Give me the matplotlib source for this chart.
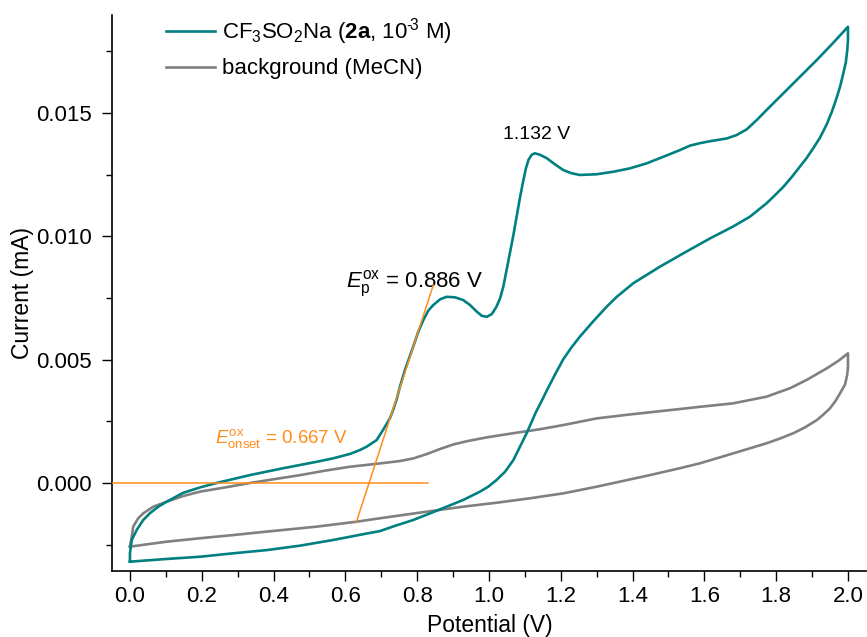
import matplotlib
matplotlib.use("Agg")
import matplotlib.pyplot as plt
from matplotlib.ticker import MultipleLocator, FormatStrFormatter

plt.rcParams['font.family'] = ['Liberation Sans', 'DejaVu Sans']
plt.rcParams['mathtext.fontset'] = 'custom'
plt.rcParams['mathtext.rm'] = 'Liberation Sans'
plt.rcParams['mathtext.it'] = 'Liberation Sans:italic'
plt.rcParams['mathtext.bf'] = 'Liberation Sans:bold'

# Cyclic voltammogram of CF3SO2Na (forward anodic sweep, then reverse sweep)
cv_fwd_v = [0.000, 0.000, 0.005, 0.019, 0.037, 0.056, 0.079, 0.102, 0.148, 0.195,
            0.241, 0.334, 0.427, 0.520, 0.566, 0.613, 0.641, 0.659, 0.687, 0.705,
            0.724, 0.733, 0.743, 0.752, 0.766, 0.789, 0.803, 0.817, 0.831, 0.845,
            0.864, 0.882, 0.905, 0.928, 0.947, 0.966, 0.980, 0.994, 1.008, 1.021,
            1.031, 1.040, 1.049, 1.058, 1.068, 1.077, 1.086, 1.096, 1.103, 1.110,
            1.119, 1.128, 1.142, 1.161, 1.184, 1.207, 1.230, 1.253, 1.300, 1.346,
            1.393, 1.439, 1.486, 1.532, 1.560, 1.588, 1.616, 1.662, 1.690, 1.718,
            1.746, 1.773, 1.820, 1.866, 1.913, 1.959, 2.000]
cv_fwd_i = [-0.00319, -0.00284, -0.00231, -0.00190, -0.00150, -0.00122, -0.00096, -0.00076, -0.00040, -0.00018,
            0.00000, 0.00032, 0.00060, 0.00086, 0.00100, 0.00118, 0.00134, 0.00147, 0.00174, 0.00215,
            0.00262, 0.00296, 0.00340, 0.00390, 0.00458, 0.00553, 0.00613, 0.00660, 0.00699, 0.00722,
            0.00745, 0.00755, 0.00753, 0.00742, 0.00722, 0.00695, 0.00678, 0.00674, 0.00685, 0.00715,
            0.00749, 0.00796, 0.00864, 0.00930, 0.01005, 0.01080, 0.01154, 0.01229, 0.01276, 0.01310,
            0.01331, 0.01337, 0.01331, 0.01317, 0.01292, 0.01269, 0.01256, 0.01249, 0.01252, 0.01262,
            0.01276, 0.01296, 0.01323, 0.01350, 0.01368, 0.01378, 0.01386, 0.01397, 0.01411, 0.01434,
            0.01472, 0.01512, 0.01580, 0.01647, 0.01715, 0.01785, 0.01850]
cv_rev_v = [2.000, 2.000, 1.998, 1.994, 1.987, 1.978, 1.968, 1.955, 1.941, 1.922,
            1.903, 1.885, 1.866, 1.843, 1.820, 1.796, 1.773, 1.727, 1.680, 1.616,
            1.541, 1.476, 1.402, 1.356, 1.328, 1.290, 1.253, 1.230, 1.207, 1.184,
            1.161, 1.151, 1.130, 1.105, 1.086, 1.068, 1.045, 1.021, 0.998, 0.975,
            0.928, 0.882, 0.836, 0.789, 0.742, 0.696, 0.659, 0.566, 0.474, 0.381,
            0.288, 0.195, 0.102, 0.000]
cv_rev_i = [0.01850, 0.01796, 0.01755, 0.01705, 0.01661, 0.01607, 0.01560, 0.01505, 0.01455, 0.01400,
            0.01357, 0.01318, 0.01283, 0.01240, 0.01201, 0.01166, 0.01134, 0.01080, 0.01040, 0.00992,
            0.00931, 0.00877, 0.00810, 0.00755, 0.00715, 0.00655, 0.00593, 0.00550, 0.00502, 0.00440,
            0.00375, 0.00345, 0.00285, 0.00202, 0.00146, 0.00093, 0.00046, 0.00012, -0.00015, -0.00035,
            -0.00069, -0.00096, -0.00123, -0.00150, -0.00172, -0.00195, -0.00205, -0.00231, -0.00254, -0.00272,
            -0.00285, -0.00299, -0.00308, -0.00319]

# Background scan of the solvent (MeCN)
bg_fwd_v = [0.000, 0.005, 0.009, 0.023, 0.037, 0.065, 0.102, 0.148, 0.195, 0.265,
            0.334, 0.404, 0.474, 0.543, 0.613, 0.682, 0.752, 0.790, 0.828, 0.864,
            0.900, 0.940, 0.994, 1.068, 1.142, 1.207, 1.300, 1.393, 1.532, 1.588,
            1.680, 1.773, 1.838, 1.885, 1.941, 1.975, 2.000]
bg_fwd_i = [-0.00258, -0.00218, -0.00177, -0.00143, -0.00123, -0.00096, -0.00076, -0.00053, -0.00035, -0.00018,
            0.00000, 0.00016, 0.00032, 0.00050, 0.00066, 0.00077, 0.00089, 0.00100, 0.00118, 0.00138,
            0.00156, 0.00170, 0.00185, 0.00202, 0.00218, 0.00235, 0.00262, 0.00278, 0.00300, 0.00309,
            0.00323, 0.00350, 0.00384, 0.00418, 0.00465, 0.00497, 0.00526]
bg_rev_v = [2.000, 2.000, 1.998, 1.992, 1.978, 1.965, 1.950, 1.932, 1.913, 1.882,
            1.848, 1.810, 1.773, 1.680, 1.588, 1.532, 1.448, 1.300, 1.207, 1.114,
            1.021, 0.928, 0.808, 0.696, 0.631, 0.520, 0.381, 0.288, 0.195, 0.102,
            0.000]
bg_rev_i = [0.00526, 0.00472, 0.00440, 0.00400, 0.00364, 0.00332, 0.00303, 0.00278, 0.00255, 0.00227,
            0.00202, 0.00180, 0.00161, 0.00120, 0.00080, 0.00060, 0.00032, -0.00015, -0.00042, -0.00062,
            -0.00080, -0.00096, -0.00120, -0.00143, -0.00157, -0.00177, -0.00197, -0.00211, -0.00224, -0.00238,
            -0.00258]

# Onset construction: baseline and tangent on the first wave
baseline_v = [-0.05, 0.83]
baseline_i = [0.0, 0.0]
tangent_v = [0.631, 0.845]
tangent_i = [-0.00157, 0.00803]

peak1_v = 0.886
peak1_i = 0.00795
peak2_v = 1.132
peak2_i = 0.01415
onset_v = 0.667
onset_i = 0.00162

teal = '#008080'
grey = '#808080'
orange = '#ff8c1a'

fig = plt.figure(figsize=(8.67, 6.37), dpi=100)
ax = fig.add_axes([112 / 867, 1 - 571 / 637, 1 - 112 / 867, (571 - 15) / 637])

cv_v = cv_fwd_v + cv_rev_v
cv_i = cv_fwd_i + cv_rev_i
bg_v = bg_fwd_v + bg_rev_v
bg_i = bg_fwd_i + bg_rev_i

ax.plot(cv_v, cv_i, color=teal, lw=1.9,
        label='CF$_3$SO$_2$Na ($\\mathbf{2a}$, 10$^{\u2010\\!3}$ M)',
        solid_joinstyle='round', zorder=3)
ax.plot(bg_v, bg_i, color=grey, lw=1.9, label='background (MeCN)',
        solid_joinstyle='round', zorder=2)
ax.plot(baseline_v, baseline_i, color=orange, lw=1.1, zorder=4)
ax.plot(tangent_v, tangent_i, color=orange, lw=1.1, zorder=4)

ax.text(0.602, peak1_i, r'$\mathit{E}^{\mathrm{ox}}_{\mathrm{p}}$' + f' = {peak1_v:.3f} V',
        fontsize=16, color='black', ha='left', va='baseline')
ax.text(peak2_v, peak2_i, f'{peak2_v:.3f} V', fontsize=14, color='black',
        ha='center', va='center')
ax.text(0.237, onset_i, r'$\mathit{E}^{\mathrm{ox}}_{\mathrm{onset}}$' + f' = {onset_v:.3f} V',
        fontsize=13.5, color=orange, ha='left', va='baseline')

ax.set_xlim(-0.05, 2.053)
ax.set_ylim(-0.003568, 0.018977)

ax.xaxis.set_major_locator(MultipleLocator(0.2))
ax.xaxis.set_minor_locator(MultipleLocator(0.1))
ax.yaxis.set_major_locator(MultipleLocator(0.005))
ax.yaxis.set_minor_locator(MultipleLocator(0.0025))
ax.xaxis.set_major_formatter(FormatStrFormatter('%.1f'))
ax.yaxis.set_major_formatter(FormatStrFormatter('%.3f'))

for side in ('top', 'right'):
    ax.spines[side].set_visible(False)
for side in ('left', 'bottom'):
    ax.spines[side].set_linewidth(1.2)

ax.tick_params(which='major', direction='out', length=7.5, width=1.0, labelsize=16)
ax.tick_params(which='minor', direction='out', length=4, width=1.0)
ax.tick_params(axis='x', which='major', pad=3)
ax.tick_params(axis='y', which='major', pad=7)

ax.set_xlabel('Potential (V)', fontsize=16.5, labelpad=5)
ax.set_ylabel('Current (mA)', fontsize=16.5, labelpad=1.5)

leg = ax.legend(loc='upper left', bbox_to_anchor=(162 / 867, 1 - 12 / 637),
                bbox_transform=fig.transFigure, frameon=False, fontsize=16,
                handlelength=2.2, handletextpad=0.32, labelspacing=0.5,
                borderaxespad=0, borderpad=0.2)

fig.savefig('out.png', dpi=100)
